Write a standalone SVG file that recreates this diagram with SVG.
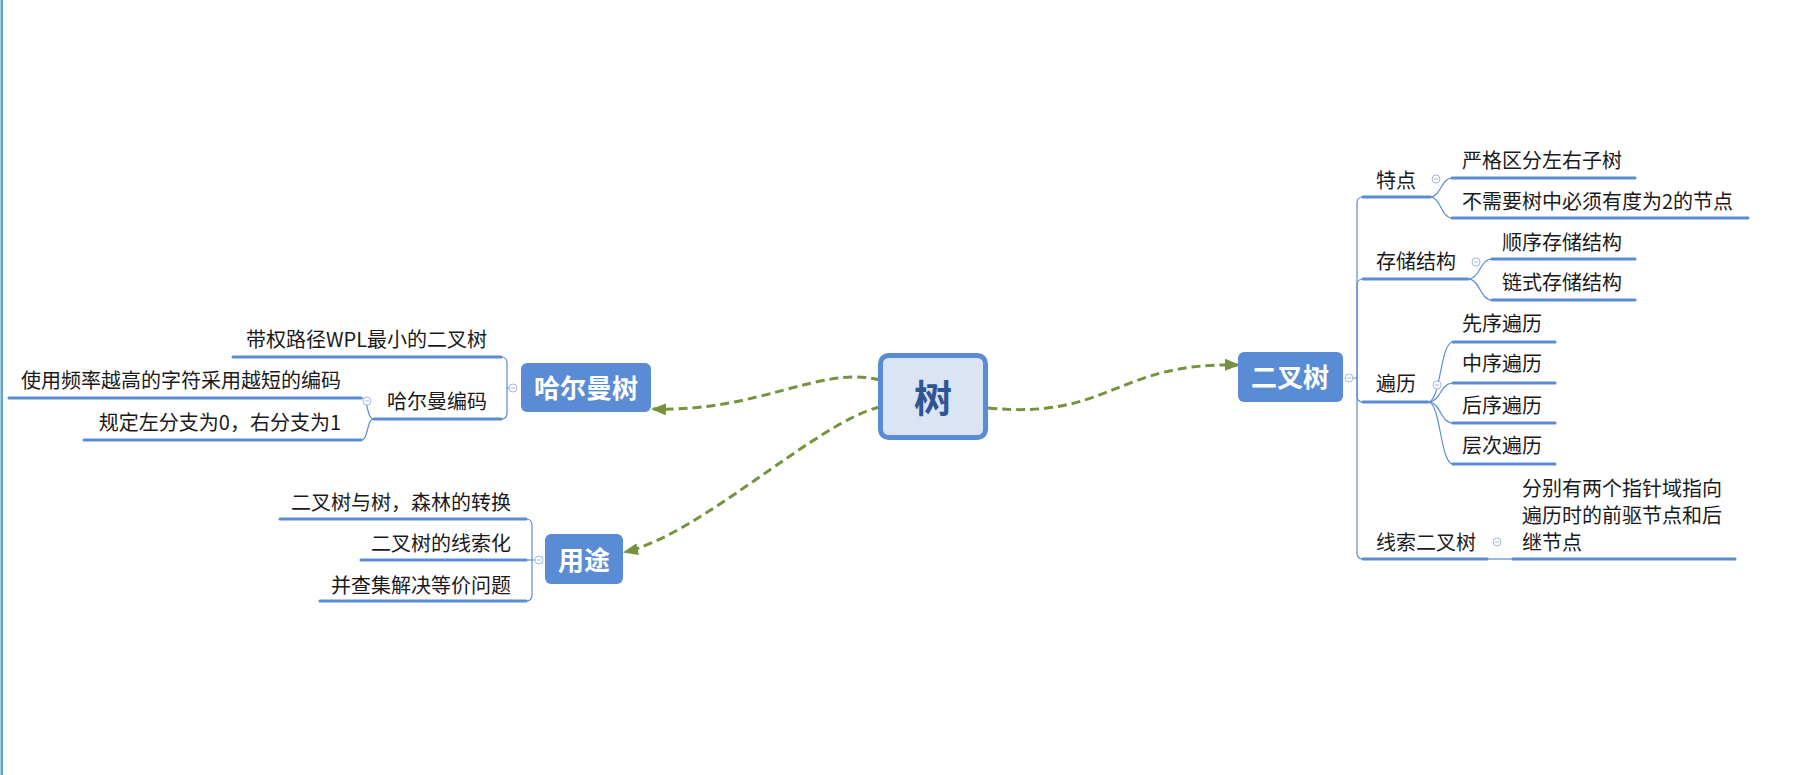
<svg xmlns="http://www.w3.org/2000/svg" width="1800" height="775" viewBox="0 0 1800 775">
<style>
text{font-family:"Noto Sans CJK SC","Microsoft YaHei",sans-serif;}
.t{font-size:20px;fill:#1a1a1a;}
.te{font-size:20px;fill:#1a1a1a;text-anchor:end;}
.mt{font-size:26px;font-weight:bold;fill:#ffffff;text-anchor:middle;}
.box{fill:#5A8CD5;}
.ul{stroke:#5A8CD5;stroke-width:3;fill:none;stroke-linecap:round;}
.br{stroke:#5A8CD5;stroke-width:1.2;fill:none;}
.cc{fill:#ffffff;stroke:#9FB7E2;stroke-width:1;}
.cm{stroke:#9FB7E2;stroke-width:1;}
.dash{stroke:#76923C;stroke-width:3;fill:none;stroke-dasharray:9 5;}
</style>
<defs>
<marker id="arr" markerWidth="15" markerHeight="12" refX="13" refY="6" orient="auto" markerUnits="userSpaceOnUse">
<path d="M0,0 L15,6 L0,12 z" fill="#76923C"/>
</marker>
</defs>
<rect x="0" y="0" width="1800" height="775" fill="#ffffff"/>
<rect x="0.5" y="0" width="2.5" height="775" fill="#5BA5C5"/>

<g id="connectors">
<path class="dash" d="M988,408 C1110,420 1115,362 1238,365" marker-end="url(#arr)"/>
<path class="dash" d="M880,380 C820,365 760,412 653,409" marker-end="url(#arr)"/>
<path class="dash" d="M880,407 C820,420 700,535 625,552" marker-end="url(#arr)"/>
<!-- right branches -->
<path class="br" d="M1353,378 H1357 V203 Q1357,197 1363,197"/>
<path class="br" d="M1357,378 V285 Q1357,279 1363,279"/>
<path class="br" d="M1357,378 V396 Q1357,402 1363,402"/>
<path class="br" d="M1357,378 V553 Q1357,559 1363,559"/>
<path class="br" d="M1430,197 C1441,197 1441,178 1452,178"/>
<path class="br" d="M1430,197 C1441,197 1441,218 1452,218"/>
<path class="br" d="M1468,279 C1480,279 1480,259 1492,259"/>
<path class="br" d="M1468,279 C1480,279 1480,300 1492,300"/>
<path class="br" d="M1428,402 C1441,402 1440,342 1453,342"/>
<path class="br" d="M1428,402 C1441,402 1440,383 1453,383"/>
<path class="br" d="M1428,402 C1441,402 1440,423 1453,423"/>
<path class="br" d="M1428,402 C1441,402 1440,464 1453,464"/>
<path class="br" d="M1487,559 H1513"/>
<!-- left branches -->
<path class="br" d="M509,388 H507 V363 Q507,357 501,357"/>
<path class="br" d="M507,388 V413 Q507,419 501,419"/>
<path class="br" d="M374,419 C366,419 369,398 361,398"/>
<path class="br" d="M374,419 C366,419 369,440 361,440"/>
<path class="br" d="M535,560 H532 V525 Q532,519 526,519"/>
<path class="br" d="M532,560 V595 Q532,601 526,601"/>
<path class="br" d="M532,560 H526"/>
</g>

<g id="root">
<rect x="880.5" y="355.5" width="105" height="82" rx="8" fill="#DAE4F3" stroke="#5A8CD5" stroke-width="5"/>
<text x="933" y="412" font-size="38" font-weight="bold" fill="#2E5594" text-anchor="middle">树</text>
</g>

<g id="n-binary">
<rect class="box" x="1238" y="352" width="105" height="50" rx="6"/>
<text class="mt" x="1290" y="387">二叉树</text>
<circle class="cc" cx="1349" cy="378" r="4"/><line class="cm" x1="1347" y1="378" x2="1351" y2="378"/>
</g>

<g id="n-huffman">
<rect class="box" x="521" y="363" width="130" height="49" rx="6"/>
<text class="mt" x="586" y="398">哈尔曼树</text>
<circle class="cc" cx="513" cy="388" r="4"/><line class="cm" x1="511" y1="388" x2="515" y2="388"/>
</g>

<g id="n-use">
<rect class="box" x="545" y="534" width="78" height="50" rx="6"/>
<text class="mt" x="584" y="570">用途</text>
<circle class="cc" cx="539" cy="560" r="4"/><line class="cm" x1="537" y1="560" x2="541" y2="560"/>
</g>

<g id="n-feature">
<line class="ul" x1="1363" y1="197" x2="1430" y2="197"/>
<text class="t" x="1376" y="188">特点</text>
<circle class="cc" cx="1436" cy="179" r="4"/><line class="cm" x1="1434" y1="179" x2="1438" y2="179"/>
</g>
<g id="n-feature-1">
<line class="ul" x1="1452" y1="178" x2="1635" y2="178"/>
<text class="t" x="1462" y="168">严格区分左右子树</text>
</g>
<g id="n-feature-2">
<line class="ul" x1="1452" y1="218" x2="1748" y2="218"/>
<text class="t" x="1462" y="209">不需要树中必须有度为2的节点</text>
</g>

<g id="n-storage">
<line class="ul" x1="1363" y1="279" x2="1468" y2="279"/>
<text class="t" x="1376" y="269">存储结构</text>
<circle class="cc" cx="1476" cy="262" r="4"/><line class="cm" x1="1474" y1="262" x2="1478" y2="262"/>
</g>
<g id="n-storage-1">
<line class="ul" x1="1492" y1="259" x2="1635" y2="259"/>
<text class="t" x="1502" y="250">顺序存储结构</text>
</g>
<g id="n-storage-2">
<line class="ul" x1="1492" y1="300" x2="1635" y2="300"/>
<text class="t" x="1502" y="290">链式存储结构</text>
</g>

<g id="n-traverse">
<line class="ul" x1="1363" y1="402" x2="1428" y2="402"/>
<text class="t" x="1376" y="391">遍历</text>
<circle class="cc" cx="1437" cy="385" r="4"/><line class="cm" x1="1435" y1="385" x2="1439" y2="385"/>
</g>
<g id="n-traverse-1">
<line class="ul" x1="1453" y1="342" x2="1555" y2="342"/>
<text class="t" x="1462" y="331">先序遍历</text>
</g>
<g id="n-traverse-2">
<line class="ul" x1="1453" y1="383" x2="1555" y2="383"/>
<text class="t" x="1462" y="371">中序遍历</text>
</g>
<g id="n-traverse-3">
<line class="ul" x1="1453" y1="423" x2="1555" y2="423"/>
<text class="t" x="1462" y="413">后序遍历</text>
</g>
<g id="n-traverse-4">
<line class="ul" x1="1453" y1="464" x2="1555" y2="464"/>
<text class="t" x="1462" y="453">层次遍历</text>
</g>

<g id="n-thread">
<line class="ul" x1="1363" y1="559" x2="1487" y2="559"/>
<text class="t" x="1376" y="550">线索二叉树</text>
<circle class="cc" cx="1497" cy="542" r="4"/><line class="cm" x1="1495" y1="542" x2="1499" y2="542"/>
</g>
<g id="n-thread-1">
<line class="ul" x1="1513" y1="559" x2="1735" y2="559"/>
<text class="t" x="1522" y="496">分别有两个指针域指向</text>
<text class="t" x="1522" y="523">遍历时的前驱节点和后</text>
<text class="t" x="1522" y="550">继节点</text>
</g>

<g id="n-huff-1">
<line class="ul" x1="233" y1="357" x2="501" y2="357"/>
<text class="te" x="487" y="347">带权路径WPL最小的二叉树</text>
</g>
<g id="n-huff-2">
<line class="ul" x1="374" y1="419" x2="501" y2="419"/>
<text class="te" x="487" y="409">哈尔曼编码</text>
<circle class="cc" cx="367" cy="401" r="4"/><line class="cm" x1="365" y1="401" x2="369" y2="401"/>
</g>
<g id="n-huff-2-1">
<line class="ul" x1="9" y1="398" x2="361" y2="398"/>
<text class="te" x="341" y="388">使用频率越高的字符采用越短的编码</text>
</g>
<g id="n-huff-2-2">
<line class="ul" x1="84" y1="440" x2="361" y2="440"/>
<text class="te" x="341" y="430">规定左分支为0，右分支为1</text>
</g>

<g id="n-use-1">
<line class="ul" x1="280" y1="519" x2="526" y2="519"/>
<text class="te" x="511" y="510">二叉树与树，森林的转换</text>
</g>
<g id="n-use-2">
<line class="ul" x1="361" y1="560" x2="526" y2="560"/>
<text class="te" x="511" y="551">二叉树的线索化</text>
</g>
<g id="n-use-3">
<line class="ul" x1="320" y1="601" x2="526" y2="601"/>
<text class="te" x="511" y="593">并查集解决等价问题</text>
</g>
</svg>
